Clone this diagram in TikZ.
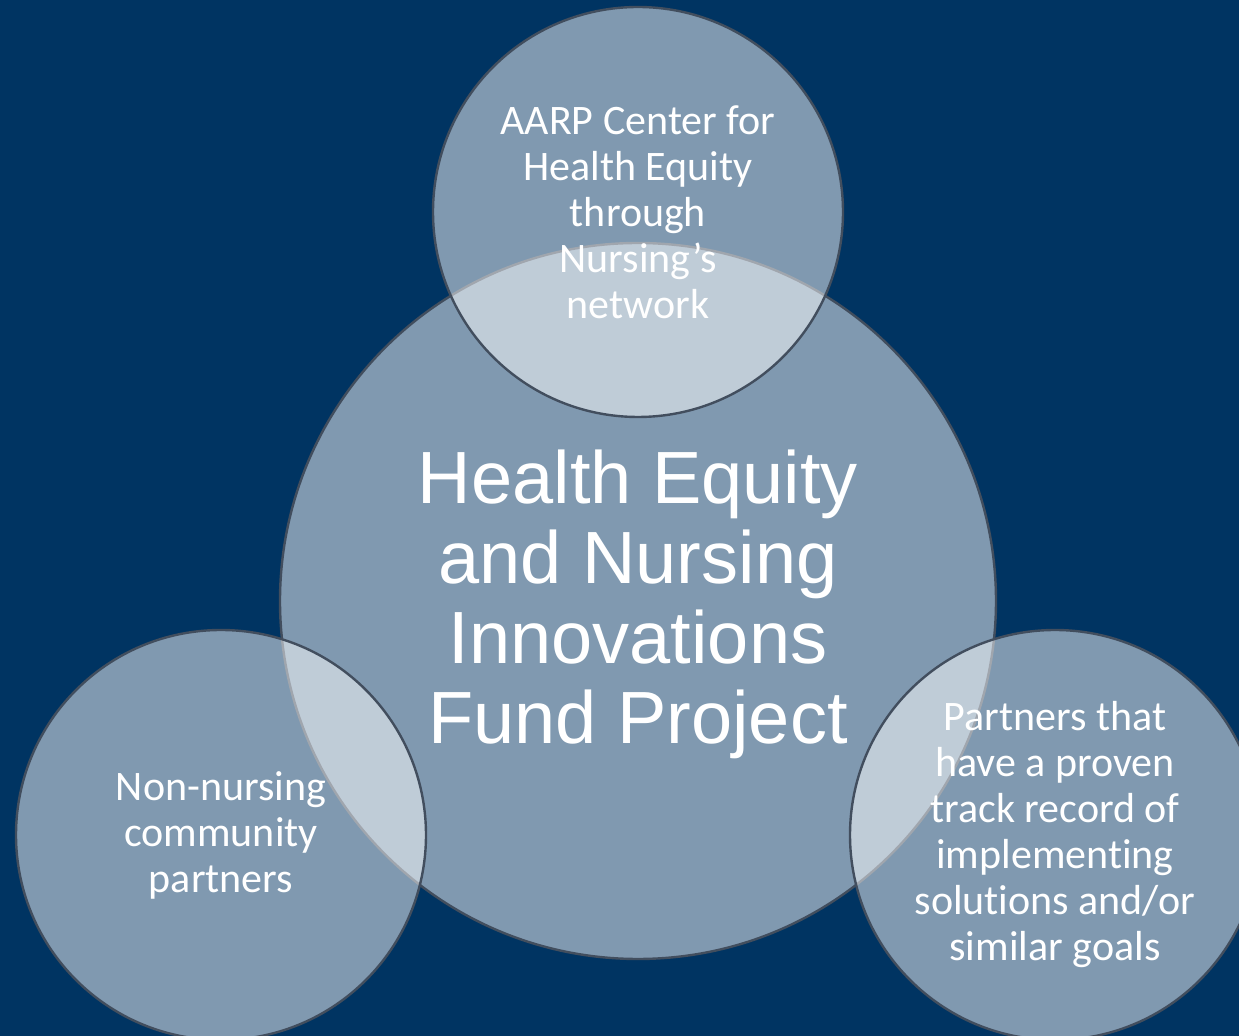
\documentclass[tikz,border=0pt]{standalone}
\usepackage{fontspec}
\setmainfont{Carlito}[Ligatures=NoCommon]
\newfontfamily\hubfont{Liberation Sans}
\usepackage{tikz}
\definecolor{navy}{RGB}{0,52,98}
\definecolor{rim}{RGB}{66,78,94}

\begin{document}
\begin{tikzpicture}[x=0.5pt,y=-0.5pt,
    every node/.style={outer sep=0pt},
    bubble/.style={circle, draw=rim, line width=1.2pt, fill=white, fill opacity=0.5, inner sep=0pt},
    label/.style={text=white, align=center, font=\fontsize{21}{23}\selectfont}]
            \useasboundingbox (0,0) rectangle (1239,1036);
            \fill[navy] (0,0) rectangle (1239,1036);
            \node[bubble, minimum size=358pt] (hub) at (638,601) {};
            \node[bubble, minimum size=205pt] (aarp) at (638,212) {};
            \node[bubble, minimum size=205pt] (community) at (221,835) {};
            \node[bubble, minimum size=205pt] (proven) at (1055,835) {};
            \node[label, font=\hubfont\fontsize{37}{40}\selectfont] (hubtext) at (638,604) {Health Equity\\and Nursing\\Innovations\\Fund Project};
            \node[label] (aarptext) at (aarp) {AARP Center for\\Health Equity\\through\\Nursing’s\\network};
            \node[label] (communitytext) at (community) {Non-nursing\\community\\partners};
            \node[label] (proventext) at (proven) {Partners that\\have a proven\\track record of\\implementing\\solutions and/or\\similar goals};
        \end{tikzpicture}
\end{document}
